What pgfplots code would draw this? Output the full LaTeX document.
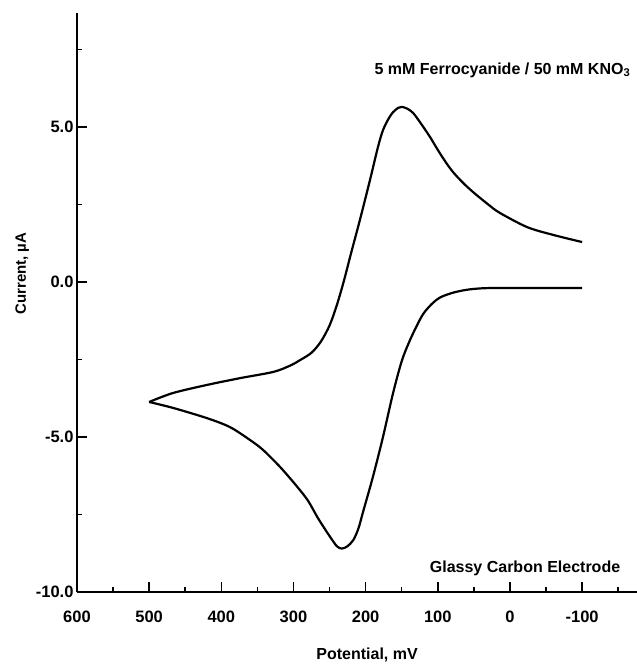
\documentclass[border=0pt]{standalone}
\usepackage{fontspec}
\setmainfont{Liberation Sans}
\usepackage{pgfplots}
\pgfplotsset{compat=1.18}
\begin{document}
\begin{tikzpicture}
\path[use as bounding box] (-77pt,-73pt) rectangle (560pt,592pt);
\begin{axis}[
  at={(0pt,0pt)}, anchor=south west,
  scale only axis, width=560pt, height=579pt,
  x dir=reverse,
  xmin=-176, xmax=600, ymin=-10, ymax=8.68,
  axis x line=bottom, axis y line=left,
  axis line style={-, line width=2pt, black},
  every outer x axis line/.append style={-},
  every outer y axis line/.append style={-},
  clip=false,
  tick align=inside,
  xtick={-100,0,...,600},
  minor xtick={-150,-50,...,550},
  ytick={-10,-5,0,5},
  minor ytick={-7.5,-2.5,2.5,7.5},
  x tick style={line width=1.5pt, black},
  y tick style={line width=1.5pt, black},
  major tick length=10pt,
  minor tick length=5pt,
  minor y tick style={line width=1.5pt},
  yticklabel style={/pgf/number format/.cd, fixed, fixed zerofill, precision=1, assume math mode=true},
  xticklabel style={/pgf/number format/assume math mode=true, yshift=-15pt},
  ticklabel style={font=\bfseries\fontsize{16.5}{16.5}\selectfont},
  xlabel={Potential, mV},
  ylabel={Current, µA},
  xlabel style={font=\bfseries\fontsize{16}{16}\selectfont, at={(axis description cs:0.518,-0.109)}, anchor=center},
  ylabel style={font=\bfseries\fontsize{15}{15}\selectfont, at={(axis description cs:-0.098,0.55)}, anchor=center, rotate=0},
]
\addplot[black, line width=2.2pt, smooth, tension=0.5] coordinates {
(500,-3.87) (467,-3.58) (420,-3.32) (374,-3.10) (328,-2.90) (305,-2.70) (291,-2.52)
(275,-2.28) (262,-1.92) (250,-1.40) (240,-0.75) (230,0.05) (220,0.95) (208,2.00) (194,3.29)
(183,4.35) (176,4.90) (168,5.28) (162,5.48) (155,5.62) (150,5.65) (143,5.60) (134,5.45) (120,5.00)
(110,4.65) (101,4.30) (90,3.90) (79,3.55) (65,3.20) (51,2.90) (30,2.50) (14,2.23) (-24,1.77) (-60,1.52) (-100,1.29)
};
\addplot[black, line width=2.2pt, smooth, tension=0.5] coordinates {
(500,-3.87) (467,-4.06) (420,-4.39) (388,-4.68) (360,-5.10) (342,-5.42)
(318,-5.98) (295,-6.60) (280,-7.05) (267,-7.58) (257,-7.95) (249,-8.23)
(240,-8.52) (233,-8.60) (225,-8.52) (217,-8.32) (210,-7.95) (204,-7.45)
(190,-6.29) (176,-5.00) (162,-3.58) (150,-2.55) (140,-1.95) (130,-1.45)
(120,-1.02) (108,-0.70) (97,-0.50) (80,-0.35) (60,-0.25) (37,-0.20) (0,-0.19) (-100,-0.19)
};
\node[anchor=east, font=\bfseries\fontsize{16}{16}\selectfont, inner sep=0pt] at (axis cs:-167,6.84) {5 mM Ferrocyanide / 50 mM KNO\textsubscript{3}};
\node[anchor=east, font=\bfseries\fontsize{16}{16}\selectfont, inner sep=0pt] at (axis cs:-153,-9.23) {Glassy Carbon Electrode};
\end{axis}
\end{tikzpicture}
\end{document}
